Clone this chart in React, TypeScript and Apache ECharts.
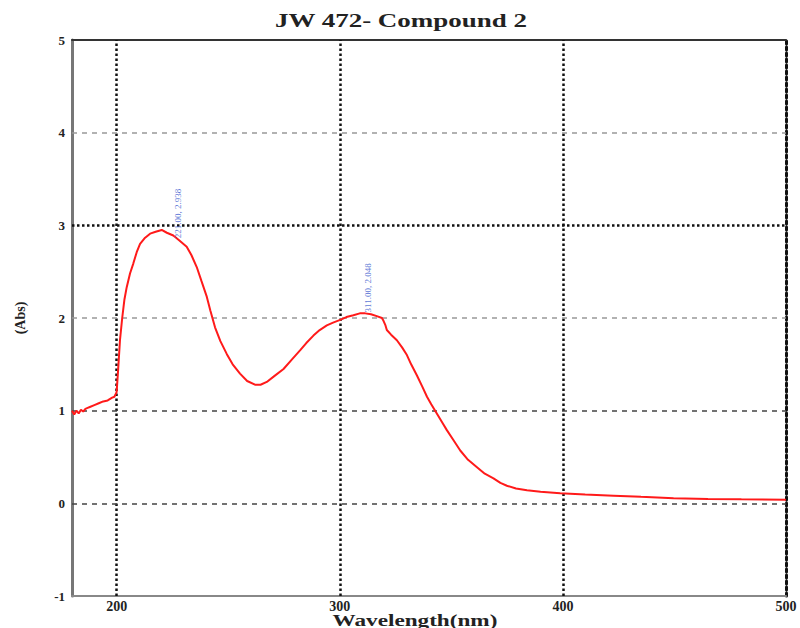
import React, { useEffect, useRef } from "react";
import * as echarts from "echarts";

const wavelength = [180,181,182,183,184,185,186,187,188,190,192,194,196,198,199,200,200.7,201.5,202.5,203.5,204.5,206,207.5,209,210.5,212.5,215,217.5,220.2,222.5,225.4,228,231.4,233.5,235.9,238,240.4,242,244.1,246.5,249.4,252,255.3,258.5,262,264.5,267.3,270.5,274.8,278.5,282.2,285,288.2,291,294.2,297,300.2,303,306.1,309,311.4,314,316.6,318.9,319.6,320.5,321.1,323,325.6,328,330.1,332,334.6,337,339.1,341,343.5,346,348,351,354,357.5,361.5,365,368.9,372,374.9,379,383.9,390,398.8,410,422.7,435,449.6,465,480,500];
const absorbance = [1.0,0.96,1.0,0.97,1.01,0.99,1.02,1.03,1.04,1.06,1.08,1.1,1.11,1.14,1.15,1.2,1.45,1.76,2.0,2.2,2.33,2.48,2.59,2.71,2.8,2.86,2.91,2.93,2.95,2.92,2.89,2.84,2.77,2.68,2.55,2.4,2.23,2.08,1.9,1.75,1.61,1.5,1.4,1.32,1.28,1.28,1.31,1.37,1.45,1.55,1.65,1.73,1.81,1.87,1.92,1.95,1.98,2.01,2.03,2.05,2.05,2.04,2.02,2.0,1.97,1.92,1.87,1.82,1.76,1.68,1.6,1.5,1.38,1.26,1.15,1.07,0.97,0.87,0.79,0.68,0.57,0.47,0.39,0.32,0.27,0.22,0.19,0.16,0.14,0.125,0.11,0.095,0.083,0.07,0.055,0.048,0.043,0.038];

const xTickLabels = [200, 300, 400, 500];
const xGridValues = [200, 300, 400];
const yGridDashed = [0, 1, 2, 4];
const yGridDotted = [3];

const peakLabelPositions = [[227.5, 2.86], [312.7, 2.06]];
const peakLabelTexts = ["221.00, 2.938", "311.00, 2.048"];

const titleText = "JW 472- Compound 2";
const xAxisName = "Wavelength(nm)";
const yAxisName = "(Abs)";

const serif = "'Liberation Serif', 'DejaVu Serif', serif";

export default function App() {
  const ref = useRef<HTMLDivElement>(null);
  useEffect(() => {
    if (!ref.current) return;
    const chart = echarts.init(ref.current, undefined, { renderer: "svg" });
    const lineData = wavelength.map((w, i) => [w, absorbance[i]]);
    chart.setOption({
      animation: false,
      graphic: [
        {
          type: "text",
          x: 401,
          y: 20,
          scaleX: 1.42,
          style: {
            text: titleText,
            textAlign: "center",
            textVerticalAlign: "middle",
            fontFamily: serif,
            fontSize: 19,
            fontWeight: "bold",
            fill: "#222",
          },
        },
        {
          type: "text",
          x: 415,
          y: 620,
          scaleX: 1.45,
          style: {
            text: xAxisName,
            textAlign: "center",
            textVerticalAlign: "middle",
            fontFamily: serif,
            fontSize: 16,
            fontWeight: "bold",
            fill: "#222",
          },
        },
      ],
      grid: { left: 72, right: 14, top: 40, bottom: 32 },
      xAxis: [
        {
          type: "value",
          min: 180,
          max: 500,
          axisLine: { onZero: false, lineStyle: { color: "#888", width: 2 } },
          axisTick: { show: false },
          splitLine: { show: false },
          axisLabel: {
            customValues: xTickLabels,
            fontFamily: serif,
            fontSize: 14,
            fontWeight: "bold",
            color: "#222",
            margin: 3,
          },
        },
        {
          type: "value",
          position: "top",
          min: 180,
          max: 500,
          axisLine: { show: true, onZero: false, lineStyle: { color: "#333", width: 2 } },
          axisTick: { show: false },
          axisLabel: { show: false },
          splitLine: { show: false },
        },
      ],
      yAxis: [
        {
          type: "value",
          min: -1,
          max: 5,
          interval: 1,
          name: yAxisName,
          nameLocation: "middle",
          nameGap: 45,
          nameRotate: 90,
          nameTextStyle: { fontFamily: serif, fontSize: 14, fontWeight: "bold", color: "#222" },
          axisLine: { show: true, onZero: false, lineStyle: { color: "#777", width: 3 } },
          axisTick: { show: false },
          splitLine: { show: false },
          axisLabel: { fontFamily: serif, fontSize: 13, fontWeight: "bold", color: "#222", margin: 7 },
        },
        {
          type: "value",
          position: "right",
          min: -1,
          max: 5,
          interval: 1,
          axisLine: { show: true, onZero: false, lineStyle: { color: "#111", width: 3, type: "dotted" } },
          axisTick: { show: false },
          axisLabel: { show: false },
          splitLine: { show: false },
        },
      ],
      series: [
        {
          type: "line",
          data: lineData,
          showSymbol: false,
          lineStyle: { color: "#ff1a1a", width: 2 },
          z: 5,
          markLine: {
            silent: true,
            symbol: "none",
            label: { show: false },
            data: [
              ...xGridValues.map((v) => ({ xAxis: v, lineStyle: { color: "#111", width: 2.5, type: "dotted" } })),
              ...yGridDashed.map((v) => ({ yAxis: v, lineStyle: { color: v === 2 || v === 4 ? "#999" : "#444", width: 1.5, type: [5, 5] } })),
              ...yGridDotted.map((v) => ({ yAxis: v, lineStyle: { color: "#111", width: 2.5, type: "dotted" } })),
            ],
          },
        },
        {
          type: "scatter",
          symbolSize: 0,
          data: peakLabelPositions.map((p, i) => ({ value: p, name: peakLabelTexts[i] })),
          label: {
            show: true,
            position: [0, 0],
            rotate: 90,
            align: "left",
            verticalAlign: "middle",
            formatter: (p: any) => p.name,
            fontFamily: serif,
            fontSize: 9,
            color: "#3355cc",
          },
          z: 6,
        },
      ],
    });
    return () => chart.dispose();
  }, []);
  return <div ref={ref} style={{ position: "absolute", left: 0, top: 0, width: 800, height: 628 }} />;
}
